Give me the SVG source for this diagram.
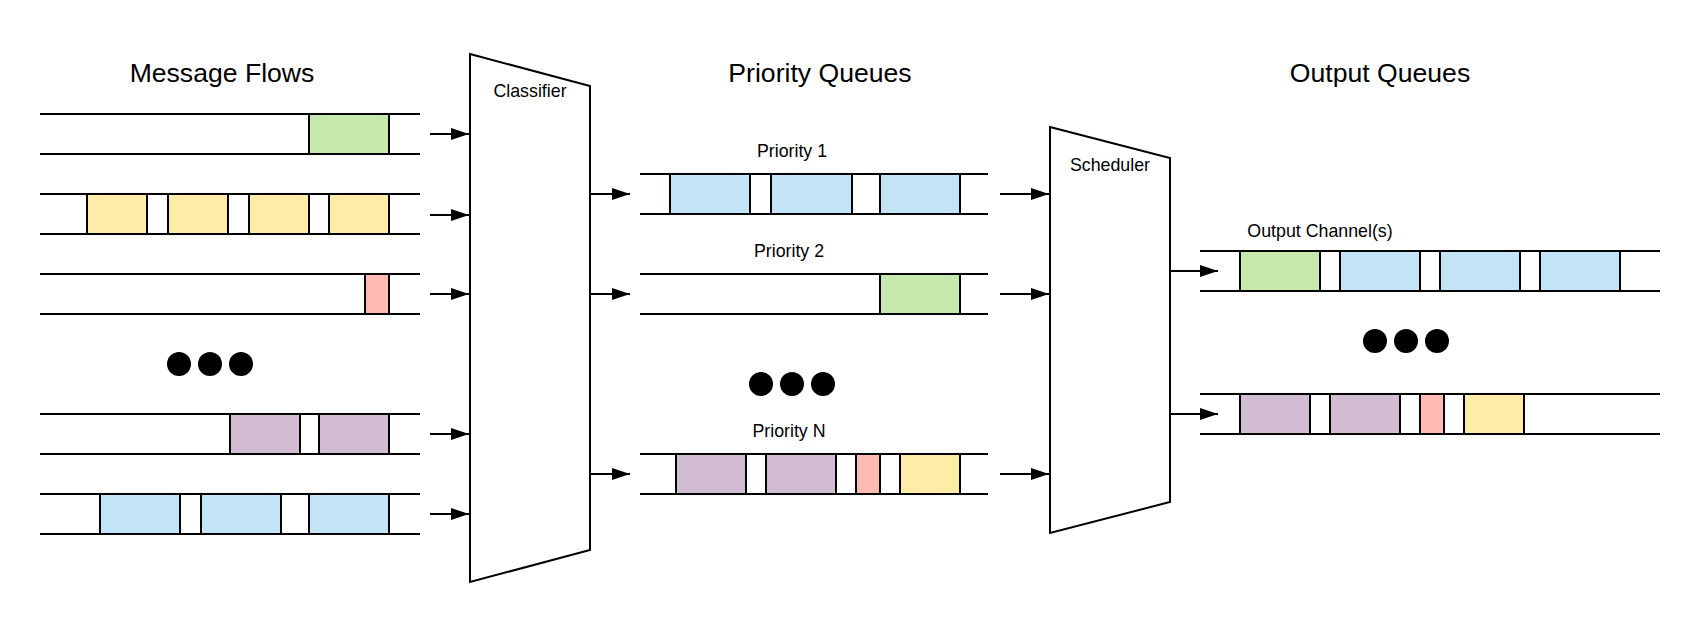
<svg xmlns="http://www.w3.org/2000/svg" width="1700" height="622" viewBox="0 0 1700 622">
<style>
text{font-family:"Liberation Sans",Arial,sans-serif;fill:#000;text-anchor:middle}
.title{font-size:26.6px}
.lbl{font-size:17.8px}
.rail{stroke:#000;stroke-width:2;fill:none}
.box{stroke:#000;stroke-width:2}
.g{fill:#c7e8ac}.y{fill:#ffeca6}.b{fill:#c2e4f6}.r{fill:#ffbbb1}.p{fill:#d2bcd2}
.shape{fill:#fff;stroke:#000;stroke-width:2;stroke-linejoin:miter}
.conn line{stroke:#000;stroke-width:2;marker-end:url(#ah)}
.dot{fill:#000}
</style>
<defs>
<marker id="ah" viewBox="0 0 18 12" refX="18" refY="6" markerWidth="18" markerHeight="12" markerUnits="userSpaceOnUse" orient="auto">
<path d="M0,0 L18,6 L0,12 Z" fill="#000"/>
</marker>
</defs>
<rect width="1700" height="622" fill="#fff"/>

<g id="titles">
<text class="title" x="222" y="82">Message Flows</text>
<text class="title" x="820" y="82">Priority Queues</text>
<text class="title" x="1380" y="82">Output Queues</text>
</g>

<g id="flow1">
<line class="rail" x1="40" y1="114" x2="420" y2="114"/>
<line class="rail" x1="40" y1="154" x2="420" y2="154"/>
<rect class="box g" x="309" y="114" width="80" height="40"/>
</g>
<g id="flow2">
<line class="rail" x1="40" y1="194" x2="420" y2="194"/>
<line class="rail" x1="40" y1="234" x2="420" y2="234"/>
<rect class="box y" x="87" y="194" width="60" height="40"/>
<rect class="box y" x="168" y="194" width="60" height="40"/>
<rect class="box y" x="249" y="194" width="60" height="40"/>
<rect class="box y" x="329" y="194" width="60" height="40"/>
</g>
<g id="flow3">
<line class="rail" x1="40" y1="274" x2="420" y2="274"/>
<line class="rail" x1="40" y1="314" x2="420" y2="314"/>
<rect class="box r" x="365" y="274" width="24" height="40"/>
</g>
<g id="flow-dots">
<circle class="dot" cx="179" cy="364" r="12"/>
<circle class="dot" cx="210" cy="364" r="12"/>
<circle class="dot" cx="241" cy="364" r="12"/>
</g>
<g id="flow4">
<line class="rail" x1="40" y1="414" x2="420" y2="414"/>
<line class="rail" x1="40" y1="454" x2="420" y2="454"/>
<rect class="box p" x="230" y="414" width="70" height="40"/>
<rect class="box p" x="319" y="414" width="70" height="40"/>
</g>
<g id="flow5">
<line class="rail" x1="40" y1="494" x2="420" y2="494"/>
<line class="rail" x1="40" y1="534" x2="420" y2="534"/>
<rect class="box b" x="100" y="494" width="80" height="40"/>
<rect class="box b" x="201" y="494" width="80" height="40"/>
<rect class="box b" x="309" y="494" width="80" height="40"/>
</g>

<g id="classifier">
<polygon class="shape" points="470,54 590,86 590,550 470,582"/>
<text class="lbl" x="530" y="97">Classifier</text>
</g>

<g id="priority1">
<text class="lbl" x="792" y="157">Priority 1</text>
<line class="rail" x1="640" y1="174" x2="988" y2="174"/>
<line class="rail" x1="640" y1="214" x2="988" y2="214"/>
<rect class="box b" x="670" y="174" width="80" height="40"/>
<rect class="box b" x="771" y="174" width="81" height="40"/>
<rect class="box b" x="880" y="174" width="80" height="40"/>
</g>
<g id="priority2">
<text class="lbl" x="789" y="257">Priority 2</text>
<line class="rail" x1="640" y1="274" x2="988" y2="274"/>
<line class="rail" x1="640" y1="314" x2="988" y2="314"/>
<rect class="box g" x="880" y="274" width="80" height="40"/>
</g>
<g id="priority-dots">
<circle class="dot" cx="761" cy="384" r="12"/>
<circle class="dot" cx="792" cy="384" r="12"/>
<circle class="dot" cx="823" cy="384" r="12"/>
</g>
<g id="priorityN">
<text class="lbl" x="789" y="437">Priority N</text>
<line class="rail" x1="640" y1="454" x2="988" y2="454"/>
<line class="rail" x1="640" y1="494" x2="988" y2="494"/>
<rect class="box p" x="676" y="454" width="70" height="40"/>
<rect class="box p" x="766" y="454" width="70" height="40"/>
<rect class="box r" x="856" y="454" width="24" height="40"/>
<rect class="box y" x="900" y="454" width="60" height="40"/>
</g>

<g id="scheduler">
<polygon class="shape" points="1050,127 1170,158 1170,502 1050,533"/>
<text class="lbl" x="1110" y="171">Scheduler</text>
</g>

<g id="output1">
<text class="lbl" x="1320" y="237">Output Channel(s)</text>
<line class="rail" x1="1200" y1="251" x2="1660" y2="251"/>
<line class="rail" x1="1200" y1="291" x2="1660" y2="291"/>
<rect class="box g" x="1240" y="251" width="80" height="40"/>
<rect class="box b" x="1340" y="251" width="80" height="40"/>
<rect class="box b" x="1440" y="251" width="80" height="40"/>
<rect class="box b" x="1540" y="251" width="80" height="40"/>
</g>
<g id="output-dots">
<circle class="dot" cx="1375" cy="341" r="12"/>
<circle class="dot" cx="1406" cy="341" r="12"/>
<circle class="dot" cx="1437" cy="341" r="12"/>
</g>
<g id="output2">
<line class="rail" x1="1200" y1="394" x2="1660" y2="394"/>
<line class="rail" x1="1200" y1="434" x2="1660" y2="434"/>
<rect class="box p" x="1240" y="394" width="70" height="40"/>
<rect class="box p" x="1330" y="394" width="70" height="40"/>
<rect class="box r" x="1420" y="394" width="24" height="40"/>
<rect class="box y" x="1464" y="394" width="60" height="40"/>
</g>

<g id="connectors" class="conn">
<line x1="430" y1="134" x2="469" y2="134"/>
<line x1="430" y1="215" x2="469" y2="215"/>
<line x1="430" y1="294" x2="469" y2="294"/>
<line x1="430" y1="434" x2="469" y2="434"/>
<line x1="430" y1="514" x2="469" y2="514"/>
<line x1="590" y1="194" x2="630" y2="194"/>
<line x1="590" y1="294" x2="630" y2="294"/>
<line x1="590" y1="474" x2="630" y2="474"/>
<line x1="1000" y1="194" x2="1049" y2="194"/>
<line x1="1000" y1="294" x2="1049" y2="294"/>
<line x1="1000" y1="474" x2="1049" y2="474"/>
<line x1="1170" y1="271" x2="1218" y2="271"/>
<line x1="1170" y1="414" x2="1218" y2="414"/>
</g>
</svg>
